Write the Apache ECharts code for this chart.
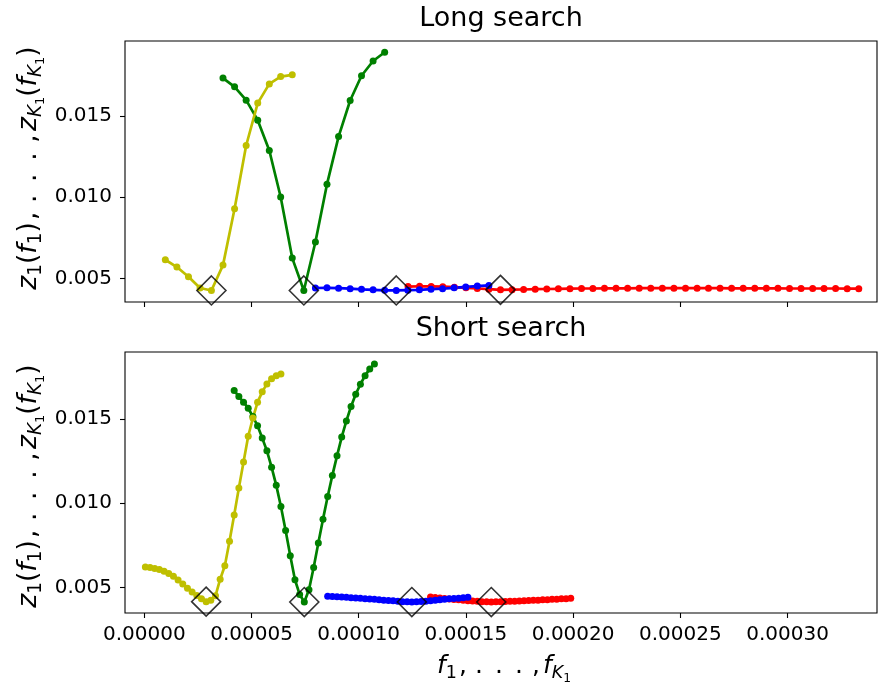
<!DOCTYPE html>
<html><head><meta charset="utf-8">
<script src="https://cdn.jsdelivr.net/npm/echarts@6/dist/echarts.min.js"></script>
<style>html,body{margin:0;padding:0;background:#fff}#c{width:878px;height:692px}</style>
</head><body><div id="c"></div>
<script>
// x values are stored in units of 1e-6
const XU = 1e-6;
const xTicks = [0, 0.00005, 0.0001, 0.00015, 0.0002, 0.00025, 0.0003];
const yTicks = [0.005, 0.010, 0.015];

// ---- Long search ----
const longYellowX = [9.8,15.2,20.6,26.0,31.3,36.7,42.1,47.5,52.9,58.3,63.6,69.0];
const longYellowY = [0.00615,0.00570,0.00510,0.00441,0.00426,0.00582,0.00929,0.01318,0.01579,0.01697,0.01742,0.01753];
const longGreenX = [36.7,42.1,47.5,52.9,58.3,63.6,69.0,74.4,79.8,85.2,90.6,96.0,101.3,106.7,112.1];
const longGreenY = [0.01733,0.01679,0.01597,0.01474,0.01287,0.01001,0.00625,0.00426,0.00724,0.01080,0.01373,0.01595,0.01747,0.01838,0.01892];
const longBlueX = [79.8,85.2,90.6,96.0,101.3,106.7,112.1,117.5,122.9,128.3,133.7,139.1,144.5,149.9,155.3,160.7];
const longBlueY = [0.00441,0.00442,0.00440,0.00437,0.00433,0.00430,0.00427,0.00426,0.00428,0.00430,0.00434,0.00437,0.00442,0.00448,0.00453,0.00457];
const longRedX = [123.0,128.4,133.8,139.2,144.6,150.0,155.3,160.7,166.1,171.5,176.9,182.3,187.7,193.1,198.5,203.9,209.2,214.6,220.0,225.4,230.8,236.2,241.6,247.0,252.4,257.8,263.1,268.5,273.9,279.3,284.7,290.1,295.5,300.9,306.3,311.7,317.0,322.4,327.8,333.2];
const longRedY = [0.00450,0.00452,0.00451,0.00449,0.00446,0.00442,0.00438,0.00434,0.00430,0.00431,0.00432,0.00434,0.00435,0.00436,0.00437,0.00438,0.00438,0.00439,0.00439,0.00439,0.00440,0.00440,0.00440,0.00440,0.00440,0.00440,0.00440,0.00440,0.00439,0.00439,0.00439,0.00439,0.00439,0.00438,0.00438,0.00438,0.00438,0.00438,0.00437,0.00437];
const longMinX = [31.3, 74.4, 117.5, 166.1];
const longMinY = [0.00426, 0.00426, 0.00426, 0.00430];

// ---- Short search ----
const shortYellowX = [0.5,2.68,4.86,7.04,9.22,11.4,13.58,15.76,17.94,20.12,22.3,24.48,26.66,28.84,31.02,33.2,35.38,37.56,39.74,41.92,44.1,46.28,48.46,50.64,52.82,55.0,57.18,59.36,61.54,63.72];
const shortYellowY = [0.00622,0.00619,0.00614,0.00607,0.00597,0.00584,0.00567,0.00546,0.00522,0.00497,0.00474,0.00453,0.00434,0.00417,0.00425,0.00452,0.00550,0.00630,0.00775,0.00930,0.01090,0.01245,0.01397,0.01505,0.01598,0.01660,0.01707,0.01738,0.01756,0.01766];
const shortGreenX = [41.92,44.1,46.28,48.46,50.64,52.82,55.0,57.18,59.36,61.54,63.72,65.9,68.08,70.26,72.44,74.62,76.8,78.98,81.16,83.34,85.52,87.7,89.88,92.06,94.24,96.42,98.6,100.78,102.96,105.14,107.32];
const shortGreenY = [0.01668,0.01632,0.01599,0.01563,0.01514,0.01459,0.01386,0.01311,0.01214,0.01106,0.00981,0.00839,0.00689,0.00547,0.00460,0.00415,0.00488,0.00620,0.00764,0.00906,0.01040,0.01165,0.01281,0.01392,0.01488,0.01573,0.01646,0.01705,0.01756,0.01796,0.01825];
const shortBlueX = [85.52,87.7,89.88,92.06,94.24,96.42,98.6,100.78,102.96,105.14,107.32,109.5,111.68,113.86,116.04,118.22,120.4,122.58,124.76,126.94,129.12,131.3,133.48,135.66,137.84,140.02,142.2,144.38,146.56,148.74,150.92];
const shortBlueY = [0.00449,0.00448,0.00446,0.00445,0.00443,0.00441,0.00439,0.00437,0.00435,0.00433,0.00431,0.00429,0.00426,0.00424,0.00422,0.00419,0.00417,0.00416,0.00415,0.00416,0.00418,0.00420,0.00423,0.00426,0.00428,0.00431,0.00434,0.00436,0.00438,0.00440,0.00443];
const shortRedX = [133.48,135.66,137.84,140.02,142.2,144.38,146.56,148.74,150.92,153.1,155.28,157.46,159.64,161.82,164.0,166.18,168.36,170.54,172.72,174.9,177.08,179.26,181.44,183.62,185.8,187.98,190.16,192.34,194.52,196.7,198.88];
const shortRedY = [0.00445,0.00442,0.00439,0.00436,0.00433,0.00430,0.00428,0.00425,0.00423,0.00421,0.00419,0.00417,0.00416,0.00415,0.00416,0.00417,0.00418,0.00419,0.00420,0.00421,0.00422,0.00424,0.00425,0.00426,0.00428,0.00429,0.00431,0.00432,0.00434,0.00435,0.00437];
const shortMinX = [28.84, 74.62, 124.76, 161.82];
const shortMinY = [0.00417, 0.00415, 0.00415, 0.00415];

const COL = {y:'#bfbf00', g:'#008000', b:'#0000ff', r:'#ff0000'};
const FONT = 'DejaVu Sans';

function pairs(xs, ys){ return xs.map((x,i)=>[x*XU, ys[i]]); }
function lineSeries(idx, xs, ys, color){
  return {type:'line', xAxisIndex:idx, yAxisIndex:idx, data:pairs(xs,ys),
    symbol:'circle', symbolSize:7, showSymbol:true, color:color,
    itemStyle:{color:color}, lineStyle:{color:color, width:2.7}, animation:false, z:2};
}
function diamonds(idx, xs, ys){
  return {type:'scatter', xAxisIndex:idx, yAxisIndex:idx, data:pairs(xs,ys),
    symbol:'diamond', symbolSize:29, clip:false, animation:false, z:5,
    itemStyle:{color:'rgba(0,0,0,0)', borderColor:'#000', borderWidth:1.6}};
}

const grids = [
  {left:125, top:41, width:752, height:261},
  {left:125, top:352, width:752, height:261}
];
const yRanges = [[0.00355, 0.01961],[0.0035, 0.01896]];

const xAxes = [0,1].map(i=>({
  gridIndex:i, type:'value', min:-0.0000090, max:0.0003417, position:'bottom',
  axisLine:{show:false, onZero:false}, splitLine:{show:false},
  axisTick:{show:true, inside:false, customValues:xTicks, length:5, lineStyle:{color:'#000', width:1.1}},
  axisLabel:{show:i===1, customValues:xTicks, formatter:v=>v.toFixed(5), fontSize:20, color:'#000', fontFamily:FONT, margin:12}
}));
const yAxes = [0,1].map(i=>({
  gridIndex:i, type:'value', min:yRanges[i][0], max:yRanges[i][1], position:'left',
  axisLine:{show:false, onZero:false}, splitLine:{show:false},
  axisTick:{show:true, inside:false, customValues:yTicks, length:5, lineStyle:{color:'#000', width:1.1}},
  axisLabel:{customValues:yTicks, formatter:v=>v.toFixed(3), fontSize:20, color:'#000', fontFamily:FONT, margin:13}
}));

function makeRich(F){
  const SF = F*0.7, SSF = F*0.49, L = 40;
  return {
    i:{fontFamily:FONT, fontStyle:'italic', fontSize:F, lineHeight:L, align:'center', color:'#000'},
    n:{fontFamily:FONT, fontSize:F, lineHeight:L, align:'center', color:'#000'},
    s:{fontFamily:FONT, fontSize:SF, verticalAlign:'bottom', padding:[0,0,3.6,0], align:'center', color:'#000'},
    si:{fontFamily:FONT, fontStyle:'italic', fontSize:SF, verticalAlign:'bottom', padding:[0,0,3.6,0], align:'center', color:'#000'},
    ss:{fontFamily:FONT, fontSize:SSF, verticalAlign:'bottom', padding:[0,0,1.5,0], align:'center', color:'#000'},
    c1:{fontFamily:FONT, fontSize:F, lineHeight:L, width:F*0.48, align:'center', color:'#000'},
    d:{fontFamily:FONT, fontSize:F, lineHeight:L, width:F*0.8, align:'center', color:'#000'},
    c2:{fontFamily:FONT, fontSize:F, lineHeight:L, width:F*0.56, align:'center', color:'#000'}
  };
}
const richX = makeRich(25), richY = makeRich(26.5);
const dots = '{c1|,}{d|.}{d|.}{d|.}{c2|,}';
const xLabel = '{i|f}{s|1}' + dots + '{i|f}{si|K}{ss|1}';
const yLabel = '{i|z}{s|1}{n|(}{i|f}{s|1}{n|)}' + dots + '{i|z}{si|K}{ss|1}{n|(}{i|f}{si|K}{ss|1}{n|)}';

const graphic = [
  {type:'text', x:501, y:19, style:{text:'Long search', font:'27px "DejaVu Sans"', fill:'#000', align:'center', verticalAlign:'middle'}},
  {type:'text', x:501, y:329, style:{text:'Short search', font:'27px "DejaVu Sans"', fill:'#000', align:'center', verticalAlign:'middle'}},
  {type:'text', x:504, y:666, style:{text:xLabel, rich:richX, align:'center', verticalAlign:'middle'}},
  {type:'text', x:29, y:168, rotation:Math.PI/2, style:{text:yLabel, rich:richY, align:'center', verticalAlign:'middle'}},
  {type:'text', x:29, y:486, rotation:Math.PI/2, style:{text:yLabel, rich:richY, align:'center', verticalAlign:'middle'}}
];

const series = [
  lineSeries(0, longRedX, longRedY, COL.r),
  lineSeries(0, longBlueX, longBlueY, COL.b),
  lineSeries(0, longGreenX, longGreenY, COL.g),
  lineSeries(0, longYellowX, longYellowY, COL.y),
  diamonds(0, longMinX, longMinY),
  lineSeries(1, shortRedX, shortRedY, COL.r),
  lineSeries(1, shortBlueX, shortBlueY, COL.b),
  lineSeries(1, shortGreenX, shortGreenY, COL.g),
  lineSeries(1, shortYellowX, shortYellowY, COL.y),
  diamonds(1, shortMinX, shortMinY)
];

const chart = echarts.init(document.getElementById('c'), null, {renderer:'canvas'});
chart.setOption({
  animation:false,
  backgroundColor:'#fff',
  grid: grids.map(g=>Object.assign({show:true, borderColor:'#000', borderWidth:1.1, backgroundColor:'transparent'}, g)),
  xAxis:xAxes, yAxis:yAxes, series:series, graphic:graphic
});
</script>
</body></html>
